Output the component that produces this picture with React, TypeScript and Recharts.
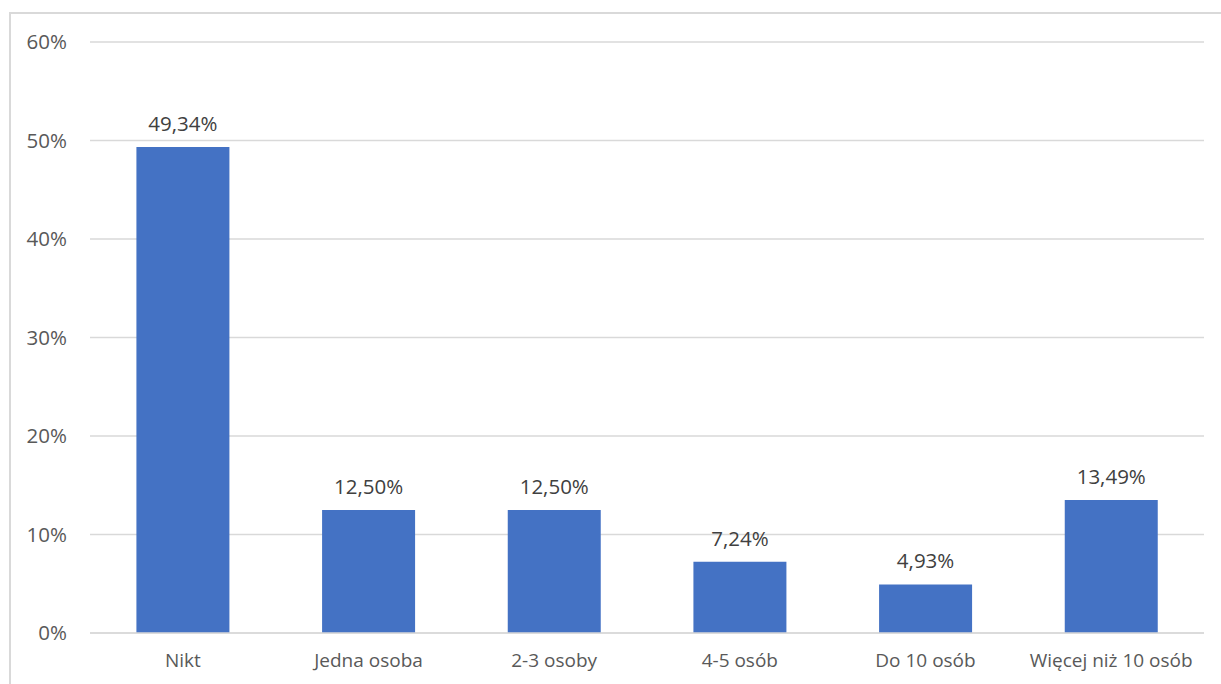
import React from 'react';
import { BarChart, Bar, XAxis, YAxis, CartesianGrid, LabelList } from 'recharts';

const categories = ['Nikt', 'Jedna osoba', '2-3 osoby', '4-5 osób', 'Do 10 osób', 'Więcej niż 10 osób'];
const shares = [49.34, 12.5, 12.5, 7.24, 4.93, 13.49];
const yTicks = [0, 10, 20, 30, 40, 50, 60];

const data = categories.map((name, i) => ({ name, value: shares[i] }));

const textColor = '#595959';
const gridColor = '#d9d9d9';
const font = '"Open Sans", sans-serif';

const fmtLabel = (v: any) => Number(v).toFixed(2).replace('.', ',') + '%';

export default function App() {
  return (
    <div style={{ position: 'absolute', left: 0, top: 0, width: 1221, height: 684, background: '#fff', overflow: 'hidden' }}>
      {/* chart frame, runs off the right and bottom edge */}
      <div style={{ position: 'absolute', left: 9, top: 12, width: 1230, height: 700, border: `2px solid ${gridColor}` }} />
      <div style={{ position: 'absolute', left: 0, top: 0 }}>
        <BarChart
          width={1221}
          height={684}
          data={data}
          margin={{ top: 42, right: 17, left: 0, bottom: 0 }}
          barCategoryGap="25%"
        >
          <CartesianGrid vertical={false} stroke={gridColor} strokeWidth={1.5} />
          <XAxis
            dataKey="name"
            height={51}
            tickLine={false}
            tickSize={0}
            tickMargin={21}
            axisLine={{ stroke: gridColor, strokeWidth: 1.5 }}
            tick={{ fill: textColor, fontSize: 19, fontFamily: font }}
            interval={0}
          />
          <YAxis
            width={90}
            domain={[0, 60]}
            ticks={yTicks}
            axisLine={false}
            tickLine={false}
            tickSize={0}
            tickMargin={23}
            tickFormatter={(v) => `${v}%`}
            tick={{ fill: textColor, fontSize: 20.5, fontFamily: font }}
          />
          <Bar dataKey="value" fill="#4472C4" isAnimationActive={false}>
            <LabelList
              dataKey="value"
              position="top"
              offset={16}
              formatter={fmtLabel}
              style={{ fill: '#404040', fontSize: 20.5, fontFamily: font }}
            />
          </Bar>
        </BarChart>
      </div>
    </div>
  );
}
